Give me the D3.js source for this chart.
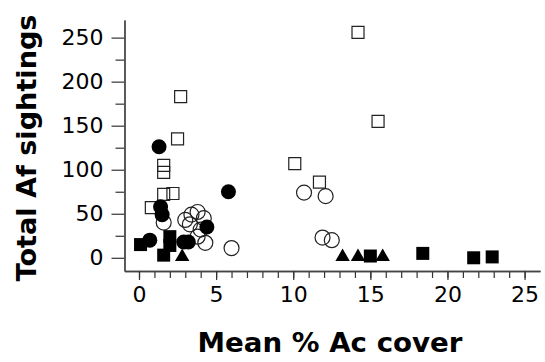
<!DOCTYPE html>
<html>
<head>
<meta charset="utf-8">
<script src="https://cdn.jsdelivr.net/npm/d3@7"></script>
<style>
  body { margin: 0; background: #fff; }
  text { font-family: "DejaVu Sans", sans-serif; fill: #000; }
</style>
</head>
<body>
<div id="chart"></div>
<script>
// data: [mean % Ac cover, total Af sightings]
var openSquares = [[2.7,183],[2.5,135],[1.6,105],[1.6,97],[1.6,72],[2.2,73],[0.8,57],
                   [14.2,256],[15.5,155],[10.1,107],[11.7,86]];
var openCircles = [[1.6,40],[3.0,43],[3.4,49],[3.8,52],[4.2,45],[3.3,38],[4.0,32],[3.8,24],
                   [4.3,17],[6.0,11],[10.7,74],[12.1,70],[11.9,23],[12.5,20]];
var filledCircles = [[1.3,126],[1.4,58],[1.5,49],[5.8,75],[4.4,35],[0.7,20],[3.2,18],[2.9,18]];
var filledSquares = [[0.1,15],[2.0,24],[2.0,14],[1.6,3],[15.0,2],[18.4,5],[21.7,0],[22.9,1]];
var filledTriangles = [[2.8,1],[13.2,1],[14.2,1],[15.8,1]];

var xMajor = [0, 5, 10, 15, 20, 25];
var yMajor = [0, 50, 100, 150, 200, 250];

var svg = d3.select("#chart").append("svg")
    .attr("width", 545)
    .attr("height", 362);

var x = d3.scaleLinear().domain([-0.94, 26]).range([124.5, 540]);
var y = d3.scaleLinear().domain([-15, 270]).range([271, 20]);

// minor ticks first, then major ticks with labels
svg.append("g")
    .attr("transform", "translate(0,271)")
    .call(d3.axisBottom(x).tickValues(d3.range(0, 26)).tickSize(7).tickSizeOuter(0).tickFormat(""));
svg.append("g")
    .attr("transform", "translate(0,271)")
    .call(d3.axisBottom(x).tickValues(xMajor).tickSize(9).tickSizeOuter(0).tickPadding(6));

svg.append("g")
    .attr("transform", "translate(124.5,0)")
    .call(d3.axisLeft(y).tickValues(d3.range(25, 260, 50)).tickSize(9).tickSizeOuter(0).tickFormat(""));
svg.append("g")
    .attr("transform", "translate(124.5,0)")
    .call(d3.axisLeft(y).tickValues(yMajor).tickSize(13).tickSizeOuter(0).tickPadding(8));

svg.selectAll(".domain").attr("stroke", "#444").attr("stroke-width", 1.3);
svg.selectAll(".tick line").attr("stroke", "#333").attr("stroke-width", 1.2);
svg.selectAll(".tick text").style("font-size", "22px").attr("fill", "#000");

// axis titles
svg.append("text")
    .attr("x", 330).attr("y", 352)
    .attr("text-anchor", "middle")
    .attr("textLength", 265).attr("lengthAdjust", "spacingAndGlyphs")
    .style("font-size", "27px").style("font-weight", "bold")
    .text("Mean % Ac cover");

svg.append("text")
    .attr("transform", "translate(36,148) rotate(-90)")
    .attr("text-anchor", "middle")
    .attr("textLength", 267).attr("lengthAdjust", "spacingAndGlyphs")
    .style("font-size", "27px").style("font-weight", "bold")
    .text("Total Af sightings");

function drawSeries(data, type, size, filled) {
  svg.append("g").selectAll("path")
    .data(data)
    .enter().append("path")
      .attr("d", d3.symbol().type(type).size(size))
      .attr("transform", function(d) { return "translate(" + x(d[0]) + "," + y(d[1]) + ")"; })
      .attr("fill", filled ? "#000" : "none")
      .attr("stroke", filled ? "none" : "#222")
      .attr("stroke-width", 1.2);
}

drawSeries(openSquares, d3.symbolSquare, 144, false);
drawSeries(openCircles, d3.symbolCircle, Math.PI * 7.5 * 7.5, false);
drawSeries(filledCircles, d3.symbolCircle, Math.PI * 7.5 * 7.5, true);
drawSeries(filledSquares, d3.symbolSquare, 169, true);
drawSeries(filledTriangles, d3.symbolTriangle, 90, true);
</script>
</body>
</html>
